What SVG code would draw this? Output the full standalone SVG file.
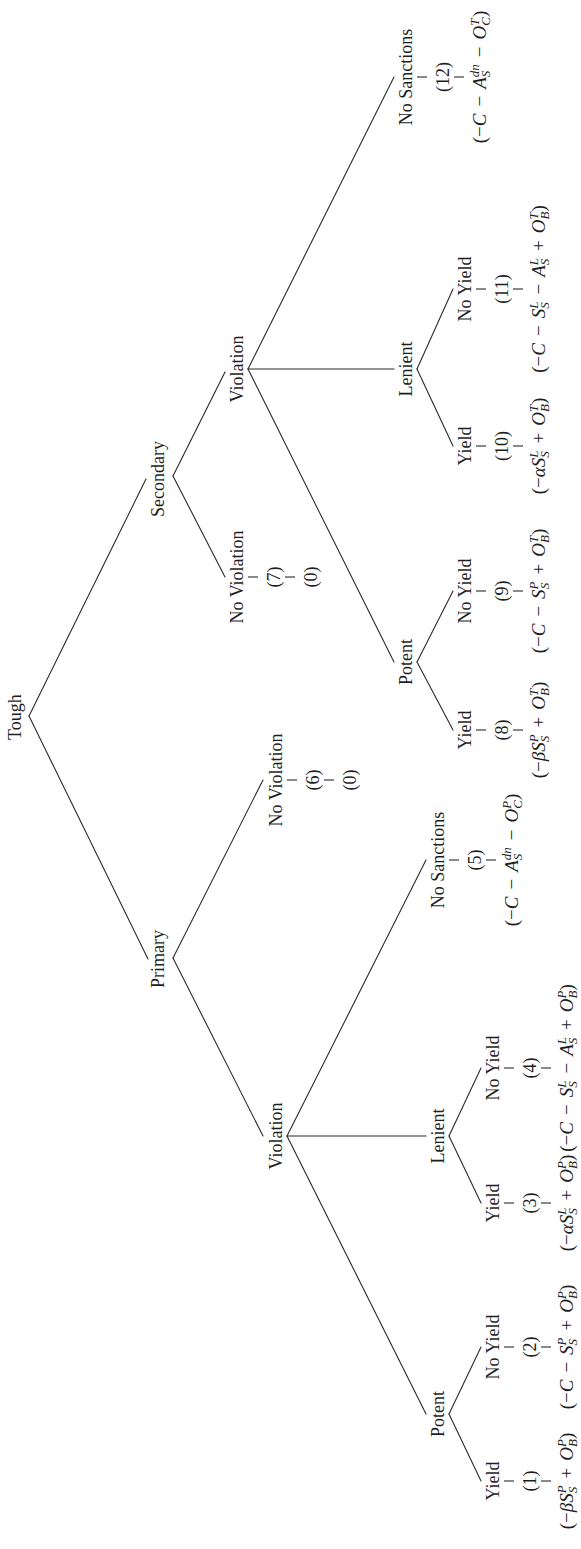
<svg xmlns="http://www.w3.org/2000/svg" width="581" height="1549" viewBox="0 0 581 1549">
<style>
.edge{stroke:#2b2b2b;stroke-width:1.1;fill:none;stroke-linecap:round}
.tick{stroke:#2b2b2b;stroke-width:1.1}
text{font-family:"Liberation Serif","Times New Roman",serif;font-size:18px;fill:#1e1e1e;text-anchor:middle}
.m{font-size:19px}
.i{font-style:italic}
.s{font-style:italic;font-size:13px}
</style>
<rect width="581" height="1549" fill="#fff"/>
<g id="connectors">
<line class="edge" x1="29" y1="716" x2="146" y2="479"/>
<line class="edge" x1="29" y1="716" x2="148" y2="959"/>
<line class="edge" x1="173" y1="476" x2="225" y2="372"/>
<line class="edge" x1="173" y1="476" x2="225" y2="577"/>
<line class="edge" x1="173" y1="958" x2="263" y2="780"/>
<line class="edge" x1="173" y1="958" x2="263" y2="1136"/>
<line class="edge" x1="248" y1="369" x2="394" y2="77"/>
<line class="edge" x1="248" y1="369" x2="394" y2="369"/>
<line class="edge" x1="248" y1="369" x2="394" y2="662"/>
<line class="edge" x1="417" y1="369" x2="453" y2="289"/>
<line class="edge" x1="417" y1="369" x2="453" y2="446"/>
<line class="edge" x1="417" y1="662" x2="453" y2="591"/>
<line class="edge" x1="417" y1="662" x2="453" y2="730"/>
<line class="edge" x1="287" y1="1136" x2="426" y2="860"/>
<line class="edge" x1="287" y1="1136" x2="426" y2="1136"/>
<line class="edge" x1="287" y1="1136" x2="426" y2="1414"/>
<line class="edge" x1="449" y1="1136" x2="481" y2="1068"/>
<line class="edge" x1="449" y1="1136" x2="481" y2="1203"/>
<line class="edge" x1="449" y1="1414" x2="481" y2="1347"/>
<line class="edge" x1="449" y1="1414" x2="481" y2="1481"/>
</g>
<g id="tough"><text x="21" y="717" transform="rotate(-90 21 717)">Tough</text></g>
<g id="secondary"><text x="164" y="479" transform="rotate(-90 164 479)">Secondary</text></g>
<g id="primary"><text x="164" y="959" transform="rotate(-90 164 959)">Primary</text></g>
<g id="violation-s"><text x="243" y="369" transform="rotate(-90 243 369)">Violation</text></g>
<g id="noviolation-s">
<text x="243" y="577" transform="rotate(-90 243 577)">No Violation</text>
<line class="tick" x1="248" y1="577" x2="258" y2="577"/>
<text x="280" y="577" transform="rotate(-90 280 577)">(7)</text>
<line class="tick" x1="285" y1="577" x2="295" y2="577"/>
<text x="317" y="577" transform="rotate(-90 317 577)">(0)</text>
</g>
<g id="violation-p"><text x="282" y="1136" transform="rotate(-90 282 1136)">Violation</text></g>
<g id="noviolation-p">
<text x="282" y="780" transform="rotate(-90 282 780)">No Violation</text>
<line class="tick" x1="287" y1="780" x2="297" y2="780"/>
<text x="319" y="780" transform="rotate(-90 319 780)">(6)</text>
<line class="tick" x1="324" y1="780" x2="334" y2="780"/>
<text x="356" y="780" transform="rotate(-90 356 780)">(0)</text>
</g>
<g id="potent-s"><text x="412" y="662" transform="rotate(-90 412 662)">Potent</text></g>
<g id="lenient-s"><text x="412" y="369" transform="rotate(-90 412 369)">Lenient</text></g>
<g id="nosanctions-s">
<text x="412" y="77" transform="rotate(-90 412 77)">No Sanctions</text>
<line class="tick" x1="417" y1="77" x2="427" y2="77"/>
<text x="449" y="77" transform="rotate(-90 449 77)">(12)</text>
<line class="tick" x1="454" y1="77" x2="464" y2="77"/>
<text class="m" x="486" y="77" transform="rotate(-90 486 77)">(−<tspan class="i">C</tspan><tspan dx="7">−</tspan><tspan class="i" dx="7">A</tspan><tspan class="s" dy="-7.5">dn</tspan><tspan class="s" dx="-13" dy="11.5">S</tspan><tspan dx="13.5" dy="-4">−</tspan><tspan class="i" dx="7">O</tspan><tspan class="s" dy="-7.5">T</tspan><tspan class="s" dx="-7.23" dy="11.5">C</tspan><tspan dy="-4">)</tspan></text>
</g>
<g id="yield-8">
<text x="471" y="730" transform="rotate(-90 471 730)">Yield</text>
<line class="tick" x1="476" y1="730" x2="486" y2="730"/>
<text x="508" y="730" transform="rotate(-90 508 730)">(8)</text>
<line class="tick" x1="513" y1="730" x2="523" y2="730"/>
<text class="m" x="545" y="730" transform="rotate(-90 545 730)">(−<tspan class="i">βS</tspan><tspan class="s" dy="-7.5">P</tspan><tspan class="s" dx="-7.94" dy="11.5">S</tspan><tspan dx="8.44" dy="-4">+</tspan><tspan class="i" dx="7">O</tspan><tspan class="s" dy="-7.5">T</tspan><tspan class="s" dx="-7.23" dy="11.5">B</tspan><tspan dy="-4">)</tspan></text>
</g>
<g id="noyield-9">
<text x="471" y="591" transform="rotate(-90 471 591)">No Yield</text>
<line class="tick" x1="476" y1="591" x2="486" y2="591"/>
<text x="508" y="591" transform="rotate(-90 508 591)">(9)</text>
<line class="tick" x1="513" y1="591" x2="523" y2="591"/>
<text class="m" x="545" y="591" transform="rotate(-90 545 591)">(−<tspan class="i">C</tspan><tspan dx="7">−</tspan><tspan class="i" dx="7">S</tspan><tspan class="s" dy="-7.5">P</tspan><tspan class="s" dx="-7.94" dy="11.5">S</tspan><tspan dx="8.44" dy="-4">+</tspan><tspan class="i" dx="7">O</tspan><tspan class="s" dy="-7.5">T</tspan><tspan class="s" dx="-7.23" dy="11.5">B</tspan><tspan dy="-4">)</tspan></text>
</g>
<g id="yield-10">
<text x="471" y="446" transform="rotate(-90 471 446)">Yield</text>
<line class="tick" x1="476" y1="446" x2="486" y2="446"/>
<text x="508" y="446" transform="rotate(-90 508 446)">(10)</text>
<line class="tick" x1="513" y1="446" x2="523" y2="446"/>
<text class="m" x="545" y="446" transform="rotate(-90 545 446)">(−<tspan class="i">αS</tspan><tspan class="s" dy="-7.5">L</tspan><tspan class="s" dx="-7.23" dy="11.5">S</tspan><tspan dx="7.73" dy="-4">+</tspan><tspan class="i" dx="7">O</tspan><tspan class="s" dy="-7.5">T</tspan><tspan class="s" dx="-7.23" dy="11.5">B</tspan><tspan dy="-4">)</tspan></text>
</g>
<g id="noyield-11">
<text x="471" y="289" transform="rotate(-90 471 289)">No Yield</text>
<line class="tick" x1="476" y1="289" x2="486" y2="289"/>
<text x="508" y="289" transform="rotate(-90 508 289)">(11)</text>
<line class="tick" x1="513" y1="289" x2="523" y2="289"/>
<text class="m" x="545" y="289" transform="rotate(-90 545 289)">(−<tspan class="i">C</tspan><tspan dx="7">−</tspan><tspan class="i" dx="7">S</tspan><tspan class="s" dy="-7.5">L</tspan><tspan class="s" dx="-7.23" dy="11.5">S</tspan><tspan dx="7.73" dy="-4">−</tspan><tspan class="i" dx="7">A</tspan><tspan class="s" dy="-7.5">L</tspan><tspan class="s" dx="-7.23" dy="11.5">S</tspan><tspan dx="7.73" dy="-4">+</tspan><tspan class="i" dx="7">O</tspan><tspan class="s" dy="-7.5">T</tspan><tspan class="s" dx="-7.23" dy="11.5">B</tspan><tspan dy="-4">)</tspan></text>
</g>
<g id="nosanctions-p">
<text x="444" y="860" transform="rotate(-90 444 860)">No Sanctions</text>
<line class="tick" x1="449" y1="860" x2="459" y2="860"/>
<text x="481" y="860" transform="rotate(-90 481 860)">(5)</text>
<line class="tick" x1="486" y1="860" x2="496" y2="860"/>
<text class="m" x="518" y="860" transform="rotate(-90 518 860)">(−<tspan class="i">C</tspan><tspan dx="7">−</tspan><tspan class="i" dx="7">A</tspan><tspan class="s" dy="-7.5">dn</tspan><tspan class="s" dx="-13" dy="11.5">S</tspan><tspan dx="13.5" dy="-4">−</tspan><tspan class="i" dx="7">O</tspan><tspan class="s" dy="-7.5">P</tspan><tspan class="s" dx="-7.94" dy="11.5">C</tspan><tspan dy="-4">)</tspan></text>
</g>
<g id="lenient-p"><text x="444" y="1136" transform="rotate(-90 444 1136)">Lenient</text></g>
<g id="potent-p"><text x="444" y="1414" transform="rotate(-90 444 1414)">Potent</text></g>
<g id="yield-3">
<text x="499" y="1203" transform="rotate(-90 499 1203)">Yield</text>
<line class="tick" x1="504" y1="1203" x2="514" y2="1203"/>
<text x="536" y="1203" transform="rotate(-90 536 1203)">(3)</text>
<line class="tick" x1="541" y1="1203" x2="551" y2="1203"/>
<text class="m" x="573" y="1203" transform="rotate(-90 573 1203)">(−<tspan class="i">αS</tspan><tspan class="s" dy="-7.5">L</tspan><tspan class="s" dx="-7.23" dy="11.5">S</tspan><tspan dx="7.73" dy="-4">+</tspan><tspan class="i" dx="7">O</tspan><tspan class="s" dy="-7.5">P</tspan><tspan class="s" dx="-7.94" dy="11.5">B</tspan><tspan dy="-4">)</tspan></text>
</g>
<g id="noyield-4">
<text x="499" y="1068" transform="rotate(-90 499 1068)">No Yield</text>
<line class="tick" x1="504" y1="1068" x2="514" y2="1068"/>
<text x="536" y="1068" transform="rotate(-90 536 1068)">(4)</text>
<line class="tick" x1="541" y1="1068" x2="551" y2="1068"/>
<text class="m" x="573" y="1068" transform="rotate(-90 573 1068)">(−<tspan class="i">C</tspan><tspan dx="7">−</tspan><tspan class="i" dx="7">S</tspan><tspan class="s" dy="-7.5">L</tspan><tspan class="s" dx="-7.23" dy="11.5">S</tspan><tspan dx="7.73" dy="-4">−</tspan><tspan class="i" dx="7">A</tspan><tspan class="s" dy="-7.5">L</tspan><tspan class="s" dx="-7.23" dy="11.5">S</tspan><tspan dx="7.73" dy="-4">+</tspan><tspan class="i" dx="7">O</tspan><tspan class="s" dy="-7.5">P</tspan><tspan class="s" dx="-7.94" dy="11.5">B</tspan><tspan dy="-4">)</tspan></text>
</g>
<g id="yield-1">
<text x="499" y="1481" transform="rotate(-90 499 1481)">Yield</text>
<line class="tick" x1="504" y1="1481" x2="514" y2="1481"/>
<text x="536" y="1481" transform="rotate(-90 536 1481)">(1)</text>
<line class="tick" x1="541" y1="1481" x2="551" y2="1481"/>
<text class="m" x="573" y="1481" transform="rotate(-90 573 1481)">(−<tspan class="i">βS</tspan><tspan class="s" dy="-7.5">P</tspan><tspan class="s" dx="-7.94" dy="11.5">S</tspan><tspan dx="8.44" dy="-4">+</tspan><tspan class="i" dx="7">O</tspan><tspan class="s" dy="-7.5">P</tspan><tspan class="s" dx="-7.94" dy="11.5">B</tspan><tspan dy="-4">)</tspan></text>
</g>
<g id="noyield-2">
<text x="499" y="1347" transform="rotate(-90 499 1347)">No Yield</text>
<line class="tick" x1="504" y1="1347" x2="514" y2="1347"/>
<text x="536" y="1347" transform="rotate(-90 536 1347)">(2)</text>
<line class="tick" x1="541" y1="1347" x2="551" y2="1347"/>
<text class="m" x="573" y="1347" transform="rotate(-90 573 1347)">(−<tspan class="i">C</tspan><tspan dx="7">−</tspan><tspan class="i" dx="7">S</tspan><tspan class="s" dy="-7.5">P</tspan><tspan class="s" dx="-7.94" dy="11.5">S</tspan><tspan dx="8.44" dy="-4">+</tspan><tspan class="i" dx="7">O</tspan><tspan class="s" dy="-7.5">P</tspan><tspan class="s" dx="-7.94" dy="11.5">B</tspan><tspan dy="-4">)</tspan></text>
</g>
</svg>
